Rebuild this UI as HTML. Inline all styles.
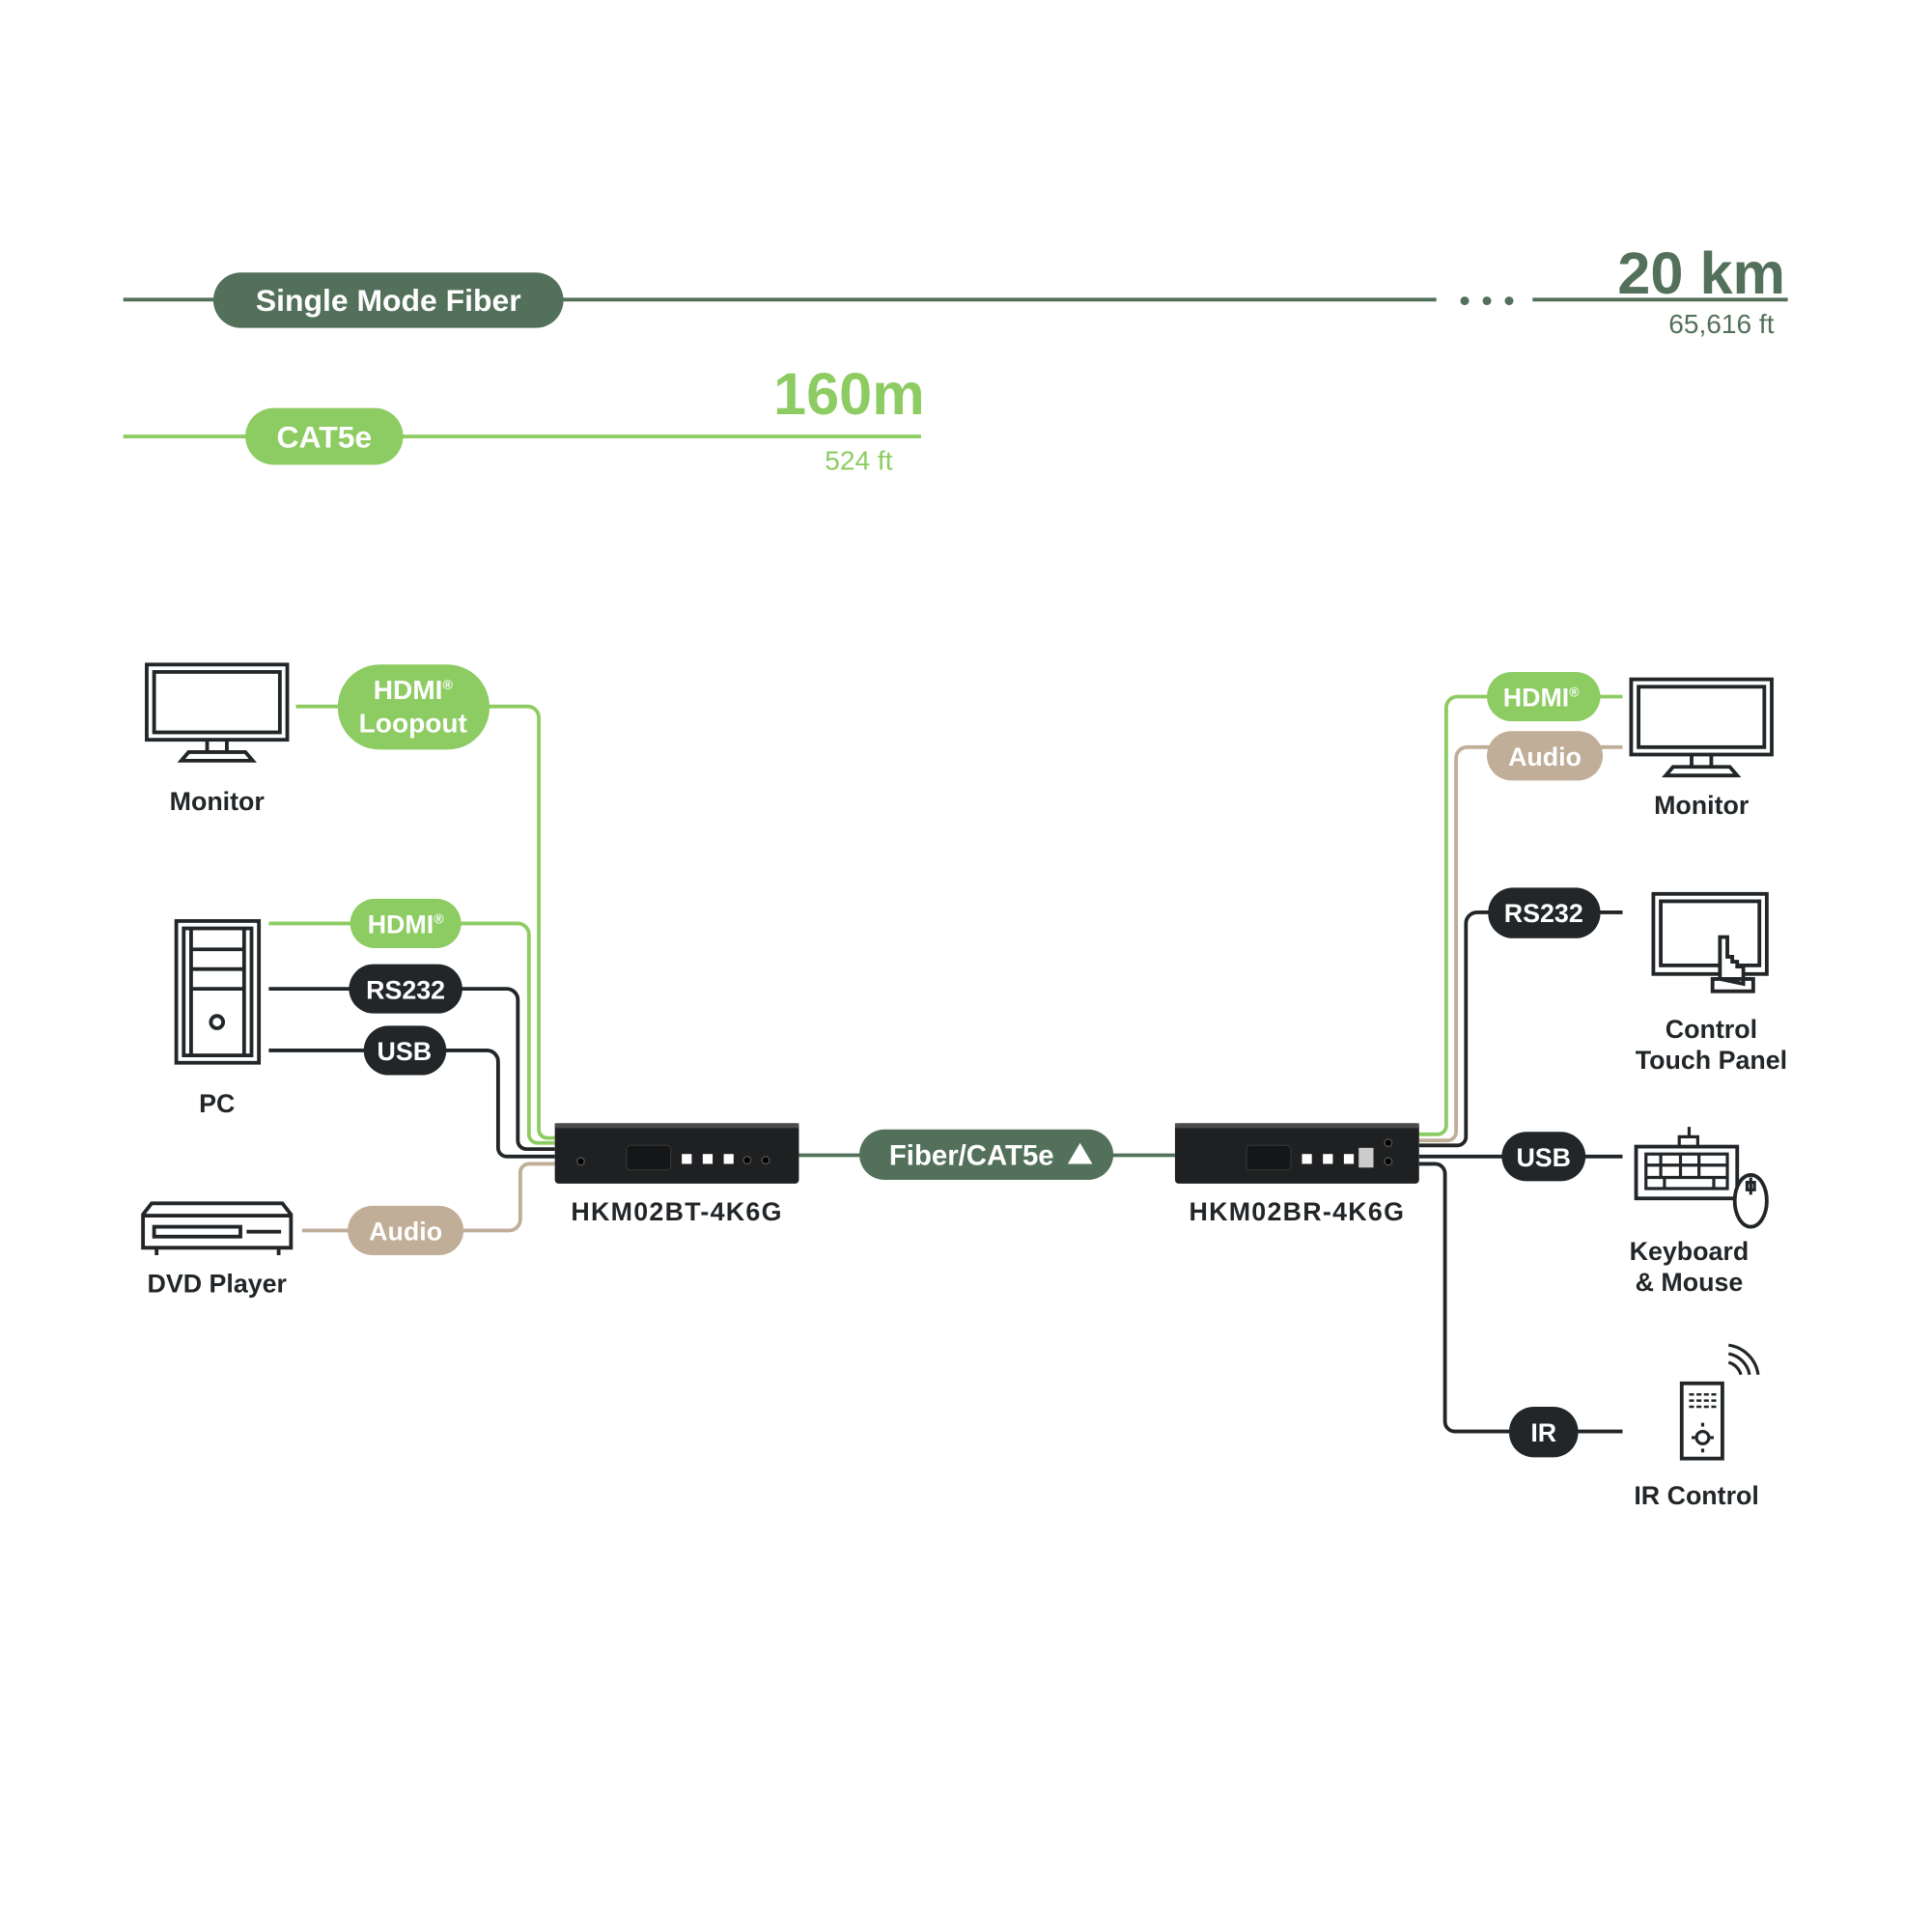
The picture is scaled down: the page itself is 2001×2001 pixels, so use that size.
<!DOCTYPE html>
<html><head><meta charset="utf-8"><style>
html,body{margin:0;padding:0;background:#fff}
svg{display:block}
text{font-family:"Liberation Sans",sans-serif;font-weight:bold}
</style></head><body>
<svg width="2001" height="2001" viewBox="0 0 1567 1567" xmlns="http://www.w3.org/2000/svg">
<defs><style>
.dg{fill:#53705a}.lg{fill:#8dcc62}.tn{fill:#c0ae98}.dk{fill:#222628}
.w{fill:#fff;font-size:23px;text-anchor:middle}
.lbl{fill:#222628;font-size:21px;text-anchor:middle}
.ic{fill:none;stroke:#222628;stroke-width:3}
</style></defs>
<line x1="100" y1="243" x2="1165" y2="243" stroke="#53705a" stroke-width="3"/>
<line x1="1243" y1="243" x2="1450" y2="243" stroke="#53705a" stroke-width="3"/>
<circle cx="1188" cy="244" r="3.5" fill="#53705a"/><circle cx="1206" cy="244" r="3.5" fill="#53705a"/><circle cx="1224" cy="244" r="3.5" fill="#53705a"/>
<rect x="173" y="221" width="284" height="45" rx="22.5" class="dg"/>
<text x="315" y="252" class="w" style="font-size:25px">Single Mode Fiber</text>
<text x="1448" y="238" text-anchor="end" fill="#53705a" style="font-size:48px">20 km</text>
<text x="1439" y="270" text-anchor="end" fill="#53705a" style="font-size:22px;font-weight:normal">65,616 ft</text>
<line x1="100" y1="354" x2="747" y2="354" stroke="#8dcc62" stroke-width="3"/>
<rect x="199" y="331" width="128" height="46" rx="23" class="lg"/>
<text x="263" y="363" class="w" style="font-size:25px">CAT5e</text>
<text x="750" y="336" text-anchor="end" fill="#8dcc62" style="font-size:48px">160m</text>
<text x="724" y="381" text-anchor="end" fill="#8dcc62" style="font-size:22px;font-weight:normal">524 ft</text>

<g fill="none" stroke-width="3">
<path d="M240 573H428a9 9 0 0 1 9 9V916a7 7 0 0 0 7 7H450" stroke="#8dcc62"/>
<path d="M218 749H420a9 9 0 0 1 9 9V920a7 7 0 0 0 7 7H450" stroke="#8dcc62"/>
<path d="M218 802H411a9 9 0 0 1 9 9V925a7 7 0 0 0 7 7H450" stroke="#222628"/>
<path d="M218 852H395a9 9 0 0 1 9 9V931a7 7 0 0 0 7 7H450" stroke="#222628"/>
<path d="M245 998H413a9 9 0 0 0 9-9V951a7 7 0 0 1 7-7H450" stroke="#c0ae98"/>
<line x1="648" y1="937" x2="953" y2="937" stroke="#53705a"/>
<path d="M1316 565H1182a9 9 0 0 0-9 9V913a7 7 0 0 1-7 7H1151" stroke="#8dcc62"/>
<path d="M1316 606H1190a9 9 0 0 0-9 9V918a7 7 0 0 1-7 7H1151" stroke="#c0ae98"/>
<path d="M1316 740H1198a9 9 0 0 0-9 9V922a7 7 0 0 1-7 7H1151" stroke="#222628"/>
<path d="M1151 938H1316" stroke="#222628"/>
<path d="M1151 944H1164a8 8 0 0 1 8 8V1153a8 8 0 0 0 8 8H1316" stroke="#222628"/>
</g>

<rect x="274" y="539" width="123" height="69" rx="34" class="lg"/>
<text x="335" y="567" class="w" style="font-size:22px">HDMI<tspan style="font-size:11px" dy="-8">®</tspan></text>
<text x="335" y="594" class="w" style="font-size:22px">Loopout</text>
<rect x="284" y="729" width="90" height="40" rx="20" class="lg"/>
<text x="329" y="757" class="w" style="font-size:21px">HDMI<tspan style="font-size:11px" dy="-8">®</tspan></text>
<rect x="283" y="782" width="92" height="40" rx="20" class="dk"/>
<text x="329" y="810" class="w" style="font-size:21px">RS232</text>
<rect x="295" y="832" width="67" height="40" rx="20" class="dk"/>
<text x="328" y="860" class="w" style="font-size:21px">USB</text>
<rect x="282" y="978" width="94" height="40" rx="20" class="tn"/>
<text x="329" y="1006" class="w" style="font-size:21px">Audio</text>

<rect x="1206" y="545" width="92" height="40" rx="20" class="lg"/>
<text x="1250" y="573" class="w" style="font-size:21px">HDMI<tspan style="font-size:11px" dy="-8">®</tspan></text>
<rect x="1206" y="593" width="94" height="40" rx="20" class="tn"/>
<text x="1253" y="621" class="w" style="font-size:21px">Audio</text>
<rect x="1207" y="720" width="91" height="41" rx="20" class="dk"/>
<text x="1252" y="748" class="w" style="font-size:21px">RS232</text>
<rect x="1218" y="918" width="68" height="40" rx="20" class="dk"/>
<text x="1252" y="946" class="w" style="font-size:21px">USB</text>
<rect x="1224" y="1141" width="56" height="41" rx="20" class="dk"/>
<text x="1252" y="1169" class="w" style="font-size:21px">IR</text>

<rect x="697" y="916" width="206" height="41" rx="20.5" class="dg"/>
<text x="788" y="945" class="w" style="font-size:23px">Fiber/CAT5e</text>
<polygon points="866,944 876,927 886,944" fill="#fff"/>

<g>
<rect x="450" y="911" width="198" height="49" rx="3" fill="#1e2022"/>
<rect x="450" y="911" width="198" height="4" fill="#4a4c4e"/>
<rect x="508" y="929" width="36" height="20" rx="3" fill="#151617" stroke="#333" stroke-width="1"/>
<rect x="553" y="936" width="8" height="8" fill="#fff"/><rect x="570" y="936" width="8" height="8" fill="#fff"/><rect x="587" y="936" width="8" height="8" fill="#fff"/>
<circle cx="606" cy="941" r="3" fill="#000" stroke="#555"/><circle cx="621" cy="941" r="3" fill="#000" stroke="#555"/>
<circle cx="471" cy="942" r="3" fill="#000" stroke="#555"/>
<rect x="953" y="911" width="198" height="49" rx="3" fill="#1e2022"/>
<rect x="953" y="911" width="198" height="4" fill="#4a4c4e"/>
<rect x="1011" y="929" width="36" height="20" rx="3" fill="#151617" stroke="#333" stroke-width="1"/>
<rect x="1056" y="936" width="8" height="8" fill="#fff"/><rect x="1073" y="936" width="8" height="8" fill="#fff"/><rect x="1090" y="936" width="8" height="8" fill="#fff"/>
<rect x="1102" y="931" width="12" height="16" fill="#ccc"/>
<circle cx="1126" cy="927" r="3" fill="#000" stroke="#555"/><circle cx="1126" cy="942" r="3" fill="#000" stroke="#555"/>
</g>
<text x="549" y="990" class="lbl" style="font-size:21px;letter-spacing:1px">HKM02BT-4K6G</text>
<text x="1052" y="990" class="lbl" style="font-size:21px;letter-spacing:1px">HKM02BR-4K6G</text>

<rect x="119" y="539" width="114" height="61" class="ic"/><rect x="125" y="545" width="102" height="49" class="ic"/>
<path d="M168 600v10h16v-10M147 617l6-7h46l6 7z" class="ic"/>
<text x="176" y="657" class="lbl">Monitor</text>
<rect x="143" y="747" width="67" height="115" class="ic"/><rect x="149" y="753" width="55" height="103" class="ic"/>
<path d="M155 753v103M198 753v103M155 770h43M155 786h43M155 802h43" class="ic"/>
<circle cx="176" cy="829" r="5" class="ic"/>
<text x="176" y="902" class="lbl">PC</text>
<path d="M123 976h106l7 9v27H116v-27z" class="ic"/><path d="M116 986h120" class="ic"/>
<rect x="125" y="995" width="70" height="8" class="ic"/><path d="M200 999h28M127 1013v5M226 1013v5" class="ic"/>
<text x="176" y="1048" class="lbl">DVD Player</text>

<rect x="1323" y="551" width="114" height="61" class="ic"/><rect x="1329" y="557" width="102" height="49" class="ic"/>
<path d="M1372 612v10h16v-10M1351 629l6-7h46l6 7z" class="ic"/>
<text x="1380" y="660" class="lbl">Monitor</text>
<rect x="1341" y="725" width="92" height="65" class="ic"/><rect x="1347" y="731" width="80" height="52" class="ic"/>
<path d="M1395 794v-34h6v16h4v4h4v4h5v14zM1389 794h33v10h-33z" class="ic" style="fill:#fff"/>
<text x="1388" y="842" class="lbl">Control</text>
<text x="1388" y="867" class="lbl">Touch Panel</text>
<rect x="1327" y="930" width="82" height="42" class="ic"/>
<path d="M1335 936h66v28h-66zM1335 945h66M1335 955h66M1347 936v19M1363 936v19M1378 936v19M1350 955v9M1390 955v9M1370 914v8M1362 922h15v8h-15z" class="ic" style="stroke-width:2.5"/>
<ellipse cx="1420" cy="974" rx="13" ry="21" class="ic" style="fill:#fff"/>
<path d="M1420 955v14M1417 959h6v6h-6z" class="ic" style="stroke-width:2.5"/>
<text x="1370" y="1022" class="lbl">Keyboard</text>
<text x="1370" y="1047" class="lbl">&amp; Mouse</text>
<rect x="1364" y="1122" width="33" height="61" class="ic"/>
<path d="M1370 1131h22M1370 1136h22M1370 1141h22" class="ic" style="stroke-width:2;stroke-dasharray:4 2"/>
<circle cx="1381" cy="1166" r="5" class="ic" style="stroke-width:2.5"/>
<path d="M1372 1166h3M1387 1166h3M1381 1157v-3M1381 1175v3" class="ic" style="stroke-width:2.5"/>
<path d="M1402 1105a14 14 0 0 1 10 10M1402 1098a21 21 0 0 1 17 17M1402 1091a28 28 0 0 1 24 24" class="ic" style="stroke-width:2.5"/>
<text x="1376" y="1220" class="lbl">IR Control</text>
</svg>
</body></html>
